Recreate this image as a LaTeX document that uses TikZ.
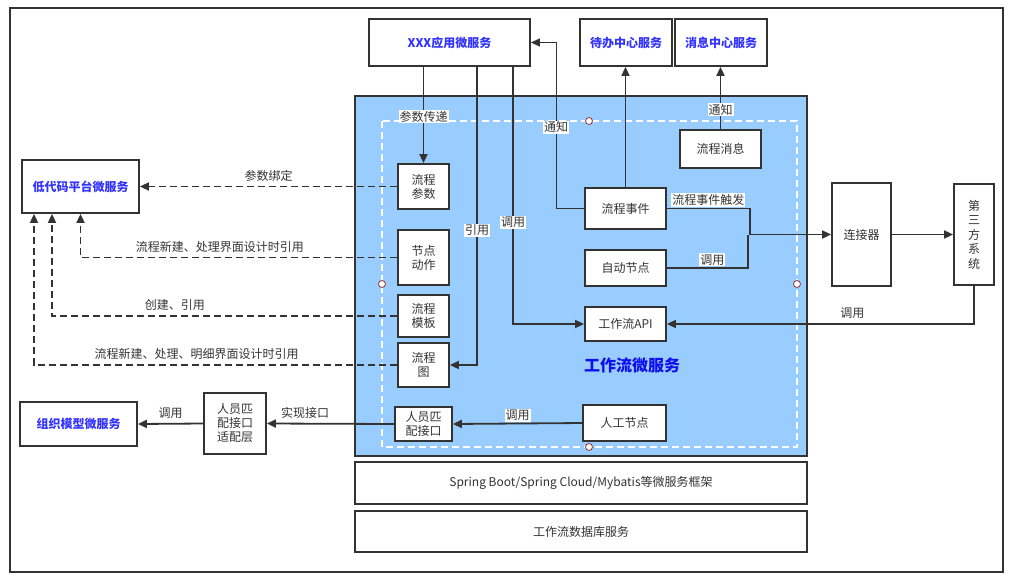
\documentclass[tikz,border=0pt]{standalone}
\usepackage{fontspec}
\setmainfont{Noto Sans CJK SC}
\usetikzlibrary{arrows.meta}
\definecolor{ink}{HTML}{333333}
\definecolor{bluefill}{HTML}{99CCFF}
\definecolor{titleblue}{HTML}{3333FF}
\definecolor{bigblue}{HTML}{1010EE}
\definecolor{markred}{HTML}{993333}
\begin{document}
\begin{tikzpicture}[x=1pt,y=-1pt,
  font=\fontsize{12}{14}\selectfont,
  box/.style={draw=ink, line width=1.8pt, fill=white, text=ink, align=center, inner sep=0pt},
  titlebox/.style={box, text=titleblue, font=\fontsize{12}{14}\selectfont\bfseries},
  conn/.style={draw=ink, line width=1.8pt, -{Triangle[length=9pt,width=8pt]}},
  thinconn/.style={draw=ink, line width=1.1pt, -{Triangle[length=9pt,width=8pt]}},
  plain/.style={draw=ink, line width=1.8pt},
  dconn/.style={conn, dash pattern=on 7pt off 4pt},
  lbl/.style={fill=white, inner sep=1pt, text=ink},
  pointmark/.style={circle, draw=markred, line width=0.8pt, fill=white, minimum size=7pt, inner sep=0pt}]
\useasboundingbox (0,0) rectangle (1010,579);
\draw[ink, line width=1.3pt] (10,8) rectangle (1003,572);

% top services
\node[titlebox, minimum width=161, minimum height=47] (xxx) at (449.5,42.5) {XXX应用微服务};
\node[titlebox, minimum width=92, minimum height=47] (daiban) at (626,42.5) {待办中心服务};
\node[titlebox, minimum width=92, minimum height=47] (xiaoxi) at (721,42.5) {消息中心服务};

% workflow container
\node[draw=ink, line width=1.5pt, fill=bluefill, minimum width=452, minimum height=360, inner sep=0pt] (wf) at (581,276) {};
\draw[white, line width=1.5pt, dash pattern=on 7pt off 4pt] (382,121) rectangle (797,447);
\node[pointmark] (m1) at (589,121) {};
\node[pointmark] (m2) at (382,284) {};
\node[pointmark] (m3) at (797,284) {};
\node[pointmark] (m4) at (589,447) {};
\node[text=bigblue, font=\fontsize{16}{18}\selectfont\bfseries] (wftitle) at (632,365) {工作流微服务};

% inner nodes
\node[box, minimum width=51, minimum height=45] (canshu) at (423.5,186.5) {流程\\参数};
\node[box, minimum width=51, minimum height=55] (dongzuo) at (423.5,257.5) {节点\\动作};
\node[box, minimum width=51, minimum height=42] (muban) at (423.5,316) {流程\\模板};
\node[box, minimum width=51, minimum height=44] (tu) at (423.5,365) {流程\\图};
\node[box, minimum width=57, minimum height=34] (renyuan) at (423.5,424) {人员匹\\配接口};
\node[box, minimum width=81, minimum height=41] (shijian) at (625.5,208.5) {流程事件};
\node[box, minimum width=81, minimum height=36] (zidong) at (625.5,268) {自动节点};
\node[box, minimum width=81, minimum height=34] (api) at (625.5,324) {工作流API};
\node[box, minimum width=83, minimum height=36] (rengong) at (624.5,423) {人工节点};
\node[box, minimum width=81, minimum height=38] (xxbox) at (720.5,149) {流程消息};

% right side
\node[box, minimum width=59, minimum height=103] (lianjie) at (861.5,234.5) {连接器};
\node[box, minimum width=40, minimum height=101, font=\fontsize{12}{14.5}\selectfont] (third) at (974,234.5) {第\\三\\方\\系\\统};

% bottom layers
\node[box, minimum width=452, minimum height=42] (spring) at (581,483) {Spring Boot/Spring Cloud/Mybatis等微服务框架};
\node[box, minimum width=452, minimum height=41] (db) at (581,531.5) {工作流数据库服务};

% left side
\node[titlebox, minimum width=117, minimum height=53] (didaima) at (80.5,186.5) {低代码平台微服务};
\node[titlebox, minimum width=117, minimum height=44] (zuzhi) at (78.5,424) {组织模型微服务};
\node[box, minimum width=62, minimum height=61] (shipei) at (235,423.5) {人员匹\\配接口\\适配层};

% connectors from XXX
\draw[conn] (xxx.south -| canshu.north) -- (canshu.north) node[lbl, pos=0.52] {参数传递};
\draw[conn] ([xshift=27.5]xxx.south) |- (tu.east) node[lbl, pos=0.274] {引用};
\draw[conn] ([xshift=63.5]xxx.south) |- (api.west) node[lbl, pos=0.302] {调用};
\draw[thinconn] (shijian.west) -- ++(-28,0) |- (xxx.east) node[lbl, pos=0.245] {通知};

% to centers
\draw[conn] (shijian.north) -- (shijian.north |- daiban.south);
\draw[conn] (xxbox.north) -- (xxbox.north |- xiaoxi.south) node[lbl, pos=0.31] {通知};

% to connector
\draw[conn] (shijian.east) -- ++(83,0) node[lbl, midway, above=1pt] {流程事件触发} |- (lianjie.west);
\draw[plain] (zidong.east) -| ([xshift=-83]lianjie.west) node[lbl, pos=0.28, above=1pt] {调用};
\draw[conn] (lianjie.east) -- (third.west);
\draw[conn] (third.south) |- (api.east) node[pos=0.698, above=1pt, text=ink] {调用};

% bottom row
\draw[conn] (rengong.west) -- (renyuan.east) node[lbl, midway, above=1pt] {调用};
\draw[conn] (renyuan.west) -- (shipei.east) node[pos=0.7, above=1pt, text=ink] {实现接口};
\draw[conn] (shipei.west) -- (zuzhi.east) node[midway, above=1pt, text=ink] {调用};

% dashed to low-code
\draw[dconn] (canshu.west) -- (didaima.east) node[midway, above=1pt, text=ink] {参数绑定};
\draw[dconn] (dongzuo.west) -| (didaima.south) node[pos=0.28, above=1pt, text=ink] {流程新建、处理界面设计时引用};
\draw[dconn] (muban.west) -| ([xshift=-28.5]didaima.south) node[pos=0.322, above=1pt, text=ink] {创建、引用};
\draw[dconn] (tu.west) -| ([xshift=-46.5]didaima.south) node[pos=0.276, above=1pt, text=ink] {流程新建、处理、明细界面设计时引用};
\end{tikzpicture}
\end{document}
